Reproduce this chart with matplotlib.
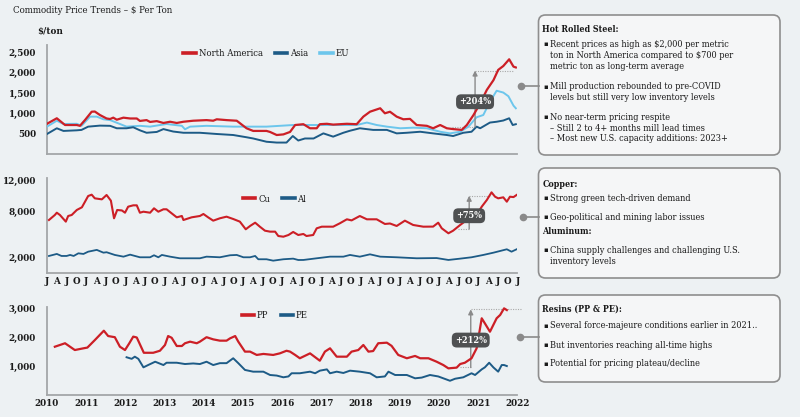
import matplotlib
matplotlib.use('Agg')
import matplotlib.pyplot as plt
from matplotlib.patches import FancyBboxPatch

# ---------------- data ----------------
steel_na_x = [2010.00, 2010.25, 2010.46, 2010.76, 2010.84, 2010.97, 2011.14, 2011.22, 2011.35, 2011.52,
              2011.61, 2011.69, 2011.78, 2011.95, 2012.12, 2012.29, 2012.37, 2012.54, 2012.63, 2012.80,
              2012.97, 2013.14, 2013.31, 2013.48, 2013.73, 2014.07, 2014.24, 2014.33, 2014.58, 2014.84,
              2015.09, 2015.26, 2015.60, 2015.69, 2015.86, 2016.03, 2016.20, 2016.33, 2016.54, 2016.71,
              2016.88, 2016.96, 2017.14, 2017.30, 2017.65, 2017.90, 2018.07, 2018.24, 2018.50, 2018.62,
              2018.75, 2018.92, 2019.09, 2019.26, 2019.43, 2019.69, 2019.85, 2020.03, 2020.20, 2020.36,
              2020.58, 2020.71, 2020.88, 2021.05, 2021.22, 2021.39, 2021.51, 2021.64, 2021.79, 2021.90,
              2021.96]
steel_na = [750, 885, 720, 720, 700, 843, 1046, 1050, 965, 880,
            867, 900, 850, 900, 880, 880, 820, 840, 795, 815,
            770, 800, 770, 800, 825, 840, 825, 860, 840, 825,
            640, 575, 575, 550, 475, 490, 550, 720, 740, 640,
            640, 740, 750, 730, 750, 740, 925, 1046, 1130, 1007,
            1045, 925, 860, 870, 720, 700, 640, 720, 640, 620,
            600, 720, 965, 1250, 1580, 1820, 2070, 2165, 2330, 2150,
            2130]

steel_eu_x = [2010.00, 2010.25, 2010.42, 2010.76, 2010.88, 2011.10, 2011.27, 2011.44, 2011.61, 2011.86,
              2012.03, 2012.37, 2012.63, 2013.05, 2013.44, 2013.52, 2013.65, 2014.07, 2014.75, 2015.60,
              2016.28, 2016.45, 2016.96, 2017.90, 2018.16, 2018.41, 2018.67, 2019.01, 2019.35, 2019.69,
              2020.03, 2020.28, 2020.54, 2020.75, 2020.96, 2021.13, 2021.30, 2021.47, 2021.64, 2021.77,
              2021.90, 2021.96]
steel_eu = [680, 825, 745, 750, 700, 925, 925, 860, 840, 745,
            680, 700, 680, 745, 700, 615, 680, 700, 680, 680,
            720, 720, 720, 720, 780, 720, 680, 640, 655, 640,
            555, 515, 555, 680, 910, 965, 1290, 1560, 1515, 1425,
            1195, 1130]

steel_asia_x = [2010.00, 2010.25, 2010.42, 2010.76, 2010.88, 2011.05, 2011.35, 2011.61, 2011.78, 2012.03,
                2012.20, 2012.37, 2012.54, 2012.80, 2012.97, 2013.22, 2013.48, 2013.90, 2014.33, 2014.75,
                2015.09, 2015.26, 2015.60, 2015.86, 2016.11, 2016.27, 2016.41, 2016.58, 2016.80, 2017.05,
                2017.30, 2017.56, 2017.73, 2017.98, 2018.32, 2018.67, 2018.92, 2019.18, 2019.52, 2019.85,
                2020.20, 2020.36, 2020.62, 2020.83, 2020.96, 2021.05, 2021.30, 2021.47, 2021.64, 2021.79,
                2021.88, 2021.96]
steel_asia = [500, 640, 575, 590, 600, 680, 705, 700, 640, 640,
              665, 590, 530, 550, 620, 560, 530, 530, 500, 475,
              420, 390, 310, 290, 290, 450, 340, 390, 390, 515,
              435, 530, 580, 640, 600, 600, 515, 530, 555, 515,
              475, 450, 530, 555, 680, 640, 780, 800, 830, 885,
              720, 740]

cu_x = [2010.05, 2010.20, 2010.25, 2010.33, 2010.48, 2010.54, 2010.63, 2010.76, 2010.89, 2010.97,
        2011.05, 2011.14, 2011.22, 2011.40, 2011.52, 2011.63, 2011.71, 2011.79, 2011.91, 2011.99,
        2012.07, 2012.20, 2012.29, 2012.37, 2012.46, 2012.63, 2012.73, 2012.84, 2012.97, 2013.05,
        2013.18, 2013.31, 2013.44, 2013.48, 2013.69, 2013.90, 2013.99, 2014.11, 2014.24, 2014.41,
        2014.58, 2014.75, 2014.92, 2015.07, 2015.18, 2015.31, 2015.43, 2015.56, 2015.69, 2015.82,
        2015.90, 2016.03, 2016.16, 2016.28, 2016.41, 2016.54, 2016.62, 2016.79, 2016.88, 2017.01,
        2017.14, 2017.30, 2017.47, 2017.65, 2017.77, 2017.98, 2018.16, 2018.41, 2018.62, 2018.75,
        2018.92, 2019.13, 2019.34, 2019.60, 2019.85, 2019.98, 2020.07, 2020.24, 2020.36, 2020.54,
        2020.71, 2020.96, 2021.09, 2021.22, 2021.34, 2021.43, 2021.51, 2021.64, 2021.73, 2021.81,
        2021.90, 2021.98]
cu = [6850, 7495, 7790, 7495, 6640, 7367, 7495, 8140, 8485, 9210,
      9940, 10110, 9640, 9510, 10070, 9340, 7070, 8140, 8080, 7790,
      8565, 8740, 8740, 7790, 7920, 7790, 8355, 7920, 8230, 8230,
      7710, 7195, 7367, 6850, 7195, 7367, 7625, 7195, 6765, 7070,
      7280, 6980, 6640, 5655, 6080, 6505, 5990, 5475, 5350, 5350,
      4790, 4700, 4920, 5310, 4920, 5050, 4790, 4920, 5780, 5990,
      5990, 5990, 6425, 6940, 6800, 7365, 6940, 6940, 6340, 6400,
      6080, 6765, 6210, 5990, 6000, 6505, 5780, 5140, 5475, 6210,
      6850, 7495, 8565, 9425, 10410, 9850, 9640, 9770, 9210, 9850,
      9800, 10070]

al_x = [2010.05, 2010.25, 2010.37, 2010.50, 2010.59, 2010.68, 2010.80, 2010.93, 2011.05, 2011.27,
        2011.44, 2011.52, 2011.73, 2011.95, 2012.12, 2012.37, 2012.63, 2012.73, 2012.84, 2012.93,
        2013.14, 2013.39, 2013.65, 2013.90, 2014.07, 2014.41, 2014.67, 2014.84, 2015.01, 2015.18,
        2015.31, 2015.39, 2015.60, 2015.77, 2016.03, 2016.28, 2016.41, 2016.54, 2016.88, 2017.22,
        2017.56, 2017.73, 2017.98, 2018.24, 2018.50, 2018.92, 2019.43, 2019.94, 2020.24, 2020.54,
        2020.83, 2021.13, 2021.39, 2021.73, 2021.85, 2021.98]
al = [2220, 2480, 2220, 2220, 2350, 2220, 2560, 2480, 2770, 3000,
      2645, 2700, 2350, 2130, 2390, 2050, 2050, 2310, 2050, 2350,
      2130, 1920, 1920, 1920, 2130, 2050, 2310, 2350, 2050, 2050,
      2220, 1795, 1795, 1615, 1795, 1875, 1700, 1705, 1920, 2130,
      2130, 2350, 2130, 2430, 2130, 2050, 1920, 1950, 1705, 1875,
      2050, 2350, 2645, 3080, 2770, 3080]

pp_x = [2010.20, 2010.46, 2010.71, 2010.93, 2011.03, 2011.22, 2011.45, 2011.56, 2011.73, 2011.86,
        2011.99, 2012.10, 2012.20, 2012.29, 2012.47, 2012.71, 2012.88, 2013.01, 2013.09, 2013.18,
        2013.31, 2013.44, 2013.52, 2013.65, 2013.82, 2013.90, 2014.07, 2014.24, 2014.41, 2014.58,
        2014.67, 2014.80, 2014.88, 2015.05, 2015.18, 2015.35, 2015.52, 2015.77, 2015.94, 2016.11,
        2016.20, 2016.33, 2016.45, 2016.71, 2016.96, 2017.09, 2017.22, 2017.39, 2017.65, 2017.77,
        2017.94, 2018.07, 2018.20, 2018.32, 2018.45, 2018.67, 2018.79, 2018.96, 2019.18, 2019.39,
        2019.52, 2019.73, 2019.94, 2020.11, 2020.24, 2020.45, 2020.54, 2020.66, 2020.83, 2020.96,
        2021.09, 2021.17, 2021.30, 2021.47, 2021.56, 2021.66, 2021.73]
pp = [1670, 1790, 1555, 1615, 1640, 1900, 2225, 2040, 2000, 1670,
      1555, 1790, 2020, 1990, 1460, 1460, 1530, 1730, 2040, 1980,
      1695, 1695, 1790, 1845, 1790, 1845, 2000, 1925, 1880, 1880,
      1960, 2040, 1845, 1500, 1500, 1385, 1420, 1385, 1440, 1530,
      1500, 1385, 1270, 1440, 1185, 1500, 1615, 1325, 1325, 1500,
      1555, 1730, 1500, 1520, 1790, 1810, 1700, 1385, 1270, 1350,
      1270, 1270, 1150, 1035, 920, 945, 1070, 1115, 1270, 1615,
      2655, 2480, 2190, 2655, 2770, 3000, 2940]

pe_x = [2012.03, 2012.16, 2012.24, 2012.33, 2012.46, 2012.58, 2012.76, 2012.97, 2013.05, 2013.31,
        2013.52, 2013.73, 2013.90, 2014.07, 2014.24, 2014.41, 2014.58, 2014.75, 2014.88, 2015.05,
        2015.26, 2015.52, 2015.69, 2015.86, 2016.03, 2016.16, 2016.24, 2016.45, 2016.71, 2016.84,
        2016.96, 2017.14, 2017.22, 2017.39, 2017.56, 2017.73, 2017.98, 2018.24, 2018.41, 2018.62,
        2018.71, 2018.88, 2019.18, 2019.39, 2019.56, 2019.77, 2019.98, 2020.28, 2020.41, 2020.62,
        2020.83, 2020.92, 2021.09, 2021.17, 2021.28, 2021.39, 2021.51, 2021.60, 2021.66, 2021.73]
pe = [1305, 1250, 1325, 1250, 955, 1035, 1150, 1035, 1115, 1115,
      1070, 1090, 1070, 1150, 1035, 1100, 1100, 1270, 1100, 865,
      805, 805, 690, 670, 610, 640, 750, 750, 805, 750,
      840, 885, 750, 805, 760, 840, 805, 750, 610, 640,
      805, 690, 690, 575, 600, 690, 640, 490, 560, 610,
      750, 690, 885, 955, 1115, 950, 805, 1035, 1035, 1000]

steel_ticks = [500, 1000, 1500, 2000, 2500]
metal_ticks = [2000, 8000, 12000]
resin_ticks = [1000, 2000, 3000]
quarter_labels = ['J', 'A', 'J', 'O']
years = list(range(2010, 2023))

# rise annotations: (arrow x, base value, peak value, base line start, peak line end, label, label y)
steel_rise = (2020.92, 675, 2055, 2020.33, 2021.89, '+204%', 1290)
metal_rise = (2020.77, 5700, 9975, 2020.48, 2021.30, '+75%', 7400)
resin_rise = (2020.81, 950, 2965, 2020.54, 2022.12, '+212%', 1900)

# ---------------- style ----------------
W, H = 800, 417
BG = '#edf1f3'
RED = '#cc1f26'
DBLUE = '#1d5b86'
LBLUE = '#6cc6ec'
AXC = '#a3a6a8'
GRAY = '#8a8a8a'
TXT = '#1a1a1a'
plt.rcParams['font.family'] = ['DejaVu Serif', 'DejaVu Sans']
plt.rcParams['font.stretch'] = 'condensed'

fig = plt.figure(figsize=(8, 4.17), dpi=100, facecolor=BG)


def px_axes(x0, x1, ytop, ybot):
    return fig.add_axes([x0 / W, 1 - ybot / H, (x1 - x0) / W, (ybot - ytop) / H])


def style(ax, ymax, yt):
    ax.set_facecolor('none')
    ax.set_xlim(2010, 2022)
    ax.set_ylim(0, ymax)
    for s in ['top', 'right']:
        ax.spines[s].set_visible(False)
    for s in ['left', 'bottom']:
        ax.spines[s].set_color(AXC)
        ax.spines[s].set_linewidth(1.3)
    ax.set_yticks(yt)
    ax.set_yticklabels([f'{v:,}' for v in yt])
    ax.tick_params(axis='y', length=0, pad=8, labelsize=7.0, labelcolor=TXT)
    ax.tick_params(axis='x', length=0, labelsize=7.0, labelcolor=TXT)
    for lab in ax.get_yticklabels():
        lab.set_fontweight('bold')


def rise(ax, spec):
    xa, lo, hi, x0, x1, label, ylab = spec
    ax.plot([x0, xa], [lo, lo], ls=(0, (1, 1.2)), color='#a9a9a9', lw=0.8, clip_on=False)
    ax.plot([xa, x1], [hi, hi], ls=(0, (1, 1.2)), color='#a9a9a9', lw=0.8, clip_on=False)
    ax.annotate('', xy=(xa, hi), xytext=(xa, lo),
                arrowprops=dict(arrowstyle='-|>', color=GRAY, lw=1.0, mutation_scale=7,
                                shrinkA=0, shrinkB=0))
    ax.text(xa, ylab, label, ha='center', va='center', color='white', fontsize=6.6,
            fontweight='bold', zorder=6,
            bbox=dict(boxstyle='round,pad=0.32,rounding_size=0.55', fc='#4f5152', ec='none'))


def legend(ax, handles, labels, anchor):
    leg = ax.legend(handles, labels, loc='center', bbox_to_anchor=anchor, ncol=len(labels),
                    frameon=False, fontsize=6.8, handlelength=1.3, handletextpad=0.3,
                    columnspacing=1.3)
    for t in leg.get_texts():
        t.set_color(TXT)
    for lh in leg.get_lines():
        lh.set_linewidth(2.6)


# ---------- top panel: hot rolled steel ----------
ax1 = px_axes(47, 517.4, 45, 154.4)
style(ax1, 2680, steel_ticks)
ax1.set_xticks([])
l_eu, = ax1.plot(steel_eu_x, steel_eu, color=LBLUE, lw=1.4, zorder=3)
l_as, = ax1.plot(steel_asia_x, steel_asia, color=DBLUE, lw=1.4, zorder=3)
l_na, = ax1.plot(steel_na_x, steel_na, color=RED, lw=1.6, zorder=4)
rise(ax1, steel_rise)
legend(ax1, [l_na, l_as, l_eu], ['North America', 'Asia', 'EU'], (0.466, 0.918))

# ---------- middle panel: copper / aluminum ----------
ax2 = px_axes(47, 517.4, 178.3, 273.2)
style(ax2, 12220, metal_ticks)
qpos = [2010 + 0.25 * i for i in range(49)]
ax2.set_xticks(qpos)
ax2.set_xticklabels([quarter_labels[i % 4] for i in range(49)])
ax2.tick_params(axis='x', pad=2.5, labelsize=7.0)
for lab in ax2.get_xticklabels():
    lab.set_fontweight('bold')
l_cu, = ax2.plot(cu_x, cu, color=RED, lw=1.5, zorder=4)
l_al, = ax2.plot(al_x, al, color=DBLUE, lw=1.3, zorder=3)
rise(ax2, metal_rise)
legend(ax2, [l_cu, l_al], ['Cu', 'Al'], (0.484, 0.779))

# ---------- bottom panel: resins ----------
ax3 = px_axes(47, 517.4, 306.7, 394.9)
style(ax3, 3057, resin_ticks)
ax3.set_xticks(years)
ax3.set_xticklabels([str(y) for y in years])
ax3.tick_params(axis='x', pad=3, labelsize=7.0)
for lab in ax3.get_xticklabels():
    lab.set_fontweight('bold')
l_pp, = ax3.plot(pp_x, pp, color=RED, lw=1.6, zorder=4)
l_pe, = ax3.plot(pe_x, pe, color=DBLUE, lw=1.4, zorder=3)
rise(ax3, resin_rise)
legend(ax3, [l_pp, l_pe], ['PP', 'PE'], (0.484, 0.895))

# ---------- overlay: titles, boxes, connectors ----------
ov = fig.add_axes([0, 0, 1, 1])
ov.set_xlim(0, W)
ov.set_ylim(H, 0)
ov.axis('off')

ov.text(13, 10, 'Commodity Price Trends \u2013 $ Per Ton', fontsize=6.9,
        color=TXT, ha='left', va='center')
ov.text(37, 31.5, '$/ton', fontsize=7.0, fontweight='bold', color=TXT, ha='left', va='center')

boxes = [(538.5, 15, 780, 155), (538.5, 168, 780, 278), (538.5, 295, 780, 382)]
for (x0, y0, x1, y1) in boxes:
    ov.add_patch(FancyBboxPatch((x0, y0), x1 - x0, y1 - y0,
                                boxstyle='round,pad=0,rounding_size=7',
                                fc='#f5f6f7', ec='#8e8e8e', lw=1.2))

connectors = [(520.7, 85.7), (523.3, 217.3), (520.0, 336.7)]
for (cx, cy) in connectors:
    ov.plot([cx, 538.5], [cy, cy], color=GRAY, lw=1.2)
    ov.plot([cx], [cy], marker='o', ms=5.5, color=GRAY, mec='none')

BX, TX = 543.5, 550
FS = 6.6


def head(y, s):
    ov.text(542.5, y, s, fontsize=6.4, fontweight='bold', color=TXT, ha='left', va='center')


def bullet(y, s):
    ov.text(BX, y, '\u25aa', fontsize=FS - 1.2, color=TXT, ha='left', va='center')
    ov.text(TX, y, s, fontsize=FS, color=TXT, ha='left', va='center')


def line(y, s):
    ov.text(TX, y, s, fontsize=FS, color=TXT, ha='left', va='center')


head(29.3, 'Hot Rolled Steel:')
bullet(44.0, 'Recent prices as high as $2,000 per metric')
line(55.3, 'ton in North America compared to $700 per')
line(66.5, 'metric ton as long-term average')
bullet(86.7, 'Mill production rebounded to pre-COVID')
line(97.5, 'levels but still very low inventory levels')
bullet(117.3, 'No near-term pricing respite')
line(128.3, '\u2013 Still 2 to 4+ months mill lead times')
line(138.5, '\u2013 Most new U.S. capacity additions: 2023+')

head(184, 'Copper:')
bullet(198.3, 'Strong green tech-driven demand')
bullet(217.3, 'Geo-political and mining labor issues')
head(231.7, 'Aluminum:')
bullet(250, 'China supply challenges and challenging U.S.')
line(261.7, 'inventory levels')

head(309.3, 'Resins (PP & PE):')
bullet(326, 'Several force-majeure conditions earlier in 2021..')
bullet(345, 'But inventories reaching all-time highs')
bullet(364, 'Potential for pricing plateau/decline')

fig.savefig('out.png', dpi=100, facecolor=BG)
